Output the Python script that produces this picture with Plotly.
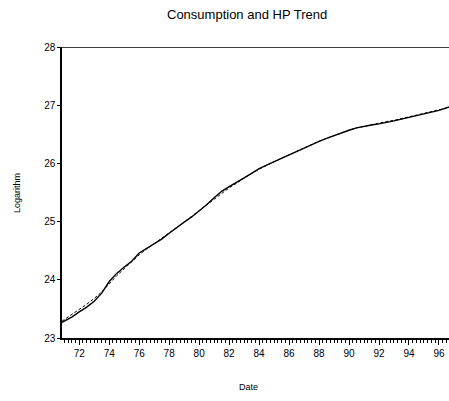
import plotly.graph_objects as go

dates = [70.85, 71.5, 72.0, 72.5, 73.0, 73.5, 74.0, 74.5, 75.0, 75.5, 76.0, 76.5, 77.0, 77.5,
         78.0, 78.5, 79.0, 79.5, 80.0, 80.5, 81.0, 81.5, 82.0, 82.5, 83.0, 83.5, 84.0, 84.5,
         85.0, 85.5, 86.0, 86.5, 87.0, 87.5, 88.0, 88.5, 89.0, 89.5, 90.0, 90.5, 91.0, 91.5,
         92.0, 92.5, 93.0, 93.5, 94.0, 94.5, 95.0, 95.5, 96.0, 96.67]

consumption = [23.27, 23.36, 23.45, 23.53, 23.63, 23.77, 23.97, 24.11, 24.22, 24.32, 24.46, 24.54,
               24.62, 24.70, 24.80, 24.90, 24.99, 25.08, 25.18, 25.29, 25.41, 25.52, 25.60, 25.67,
               25.75, 25.83, 25.91, 25.97, 26.03, 26.09, 26.14, 26.20, 26.26, 26.32, 26.38, 26.43,
               26.48, 26.52, 26.57, 26.61, 26.64, 26.66, 26.68, 26.70, 26.73, 26.76, 26.79, 26.82,
               26.84, 26.87, 26.91, 26.97]

hp_trend = [23.29, 23.40, 23.49, 23.58, 23.68, 23.79, 23.93, 24.07, 24.19, 24.31, 24.43, 24.53,
            24.62, 24.71, 24.80, 24.90, 24.99, 25.09, 25.19, 25.29, 25.39, 25.49, 25.58, 25.66,
            25.75, 25.83, 25.90, 25.97, 26.03, 26.09, 26.15, 26.21, 26.27, 26.32, 26.38, 26.43,
            26.48, 26.53, 26.57, 26.61, 26.64, 26.67, 26.69, 26.72, 26.74, 26.77, 26.79, 26.82,
            26.85, 26.88, 26.91, 26.96]

x_ticks = [72, 74, 76, 78, 80, 82, 84, 86, 88, 90, 92, 94, 96]
x_tick_labels = [str(v) for v in x_ticks]
y_ticks = [23, 24, 25, 26, 27, 28]

fig = go.Figure()
fig.add_trace(go.Scatter(x=dates, y=hp_trend, mode="lines",
                         line=dict(color="black", width=1, dash="3px,2px"), name="HP Trend"))
fig.add_trace(go.Scatter(x=dates, y=consumption, mode="lines",
                         line=dict(color="black", width=1.4), name="Consumption"))

font = "Liberation Sans, Arial, sans-serif"
fig.update_layout(
    width=449, height=401,
    margin=dict(l=62, r=0, t=47, b=63, autoexpand=False),
    plot_bgcolor="white", paper_bgcolor="white",
    showlegend=False,
    font=dict(family=font, color="black", size=10),
    xaxis=dict(range=[70.85, 96.67], tickmode="array", tickvals=x_ticks, ticktext=x_tick_labels,
               ticks="outside", ticklen=5, tickwidth=1, tickcolor="black", automargin=False,
               minor=dict(dtick=0.25, tick0=0, ticks="outside", ticklen=3, tickcolor="black", tickwidth=1),
               showline=True, linecolor="black", linewidth=1.5, showgrid=False, zeroline=False,
               tickfont=dict(size=10, family=font)),
    yaxis=dict(range=[23, 28], tickmode="array", tickvals=y_ticks, automargin=False,
               ticks="outside", ticklen=3, tickwidth=1, tickcolor="black",
               showline=True, linecolor="black", linewidth=1.5, showgrid=False, zeroline=False,
               tickfont=dict(size=10, family=font)),
    shapes=[dict(type="line", xref="paper", yref="y", x0=0, x1=1, y0=28, y1=28,
                 line=dict(color="black", width=1.5))],
    annotations=[
        dict(text="Consumption and HP Trend", xref="paper", yref="paper",
             x=(247 - 62) / 387, y=1 + (47 - 15) / 291, xanchor="center", yanchor="middle",
             showarrow=False, font=dict(size=13, family=font)),
        dict(text="Logarithm", xref="paper", yref="paper", x=(17 - 62) / 387, y=(338 - 193) / 291,
             xanchor="center", yanchor="middle", textangle=-90, showarrow=False,
             font=dict(size=9, family=font)),
        dict(text="Date", xref="paper", yref="paper", x=(248 - 62) / 387, y=-(387 - 338) / 291,
             xanchor="center", yanchor="middle", showarrow=False, font=dict(size=9, family=font)),
    ],
)

fig.write_html("out.html", config={"displayModeBar": False},
               post_script="document.body.style.margin='0';document.body.style.overflow='hidden';")
